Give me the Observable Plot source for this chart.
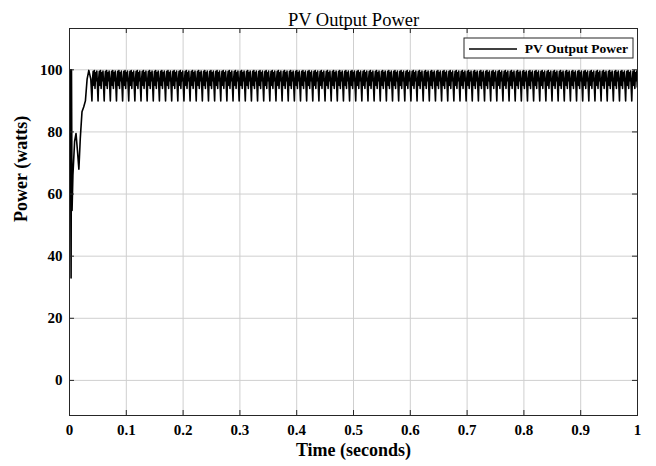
<!DOCTYPE html>
<html>
<head>
<meta charset="utf-8">
<script src="https://cdn.jsdelivr.net/npm/d3@7"></script>
<script src="https://cdn.jsdelivr.net/npm/@observablehq/plot@0.6"></script>
<style>
  html, body { margin: 0; padding: 0; background: #fff; }
  #chart svg { display: block; }
</style>
</head>
<body>
<div id="chart"></div>
<script>
// Axis ticks
const xTicks = [0, 0.1, 0.2, 0.3, 0.4, 0.5, 0.6, 0.7, 0.8, 0.9, 1];
const yTicks = [0, 20, 40, 60, 80, 100];

// Start-up transient of the PV power (time in s, power in W)
const startTime  = [0.0015, 0.0028, 0.0035, 0.0045, 0.006, 0.009, 0.0115, 0.014, 0.0165, 0.019, 0.022, 0.025, 0.028, 0.031, 0.034, 0.0375];
const startPower = [100,    33,     100,    54.7,   66,    77,    79.5,   74,    68,     78,    86.5,  88,    90,    97,    99.8,  97];

// Steady-state ripple: one period of the MPPT oscillation, sampled over its phase
const ripplePhase = [0,  0.1, 0.2,  0.3, 0.4,  0.5,  0.6, 0.7,  0.8,  0.9];
const ripplePower = [90, 97,  99.5, 95,  99.8, 94,   99,  96.5, 99.6, 94.5];
const rippleStart = 0.0395;   // first ripple trough (s)
const ripplePeriod = 0.0108;  // ripple period (s)
const endTime = 1;

// Assemble the time series
const series = startTime.map((t, i) => ({t, p: startPower[i]}));
for (let t0 = rippleStart; t0 < endTime; t0 += ripplePeriod) {
  ripplePhase.forEach((ph, i) => {
    const t = t0 + ph * ripplePeriod;
    if (t <= endTime) series.push({t, p: ripplePower[i]});
  });
}

const font = "'Liberation Serif', 'Times New Roman', serif";
const tickLen = 5;
const W = 656, H = 466, mL = 69, mR = 19, mT = 28, mB = 51;
const frameW = W - mL - mR, frameH = H - mT - mB;
const fmt = d => String(d);

const chart = Plot.plot({
  width: W,
  height: H,
  marginLeft: mL,
  marginRight: mR,
  marginTop: mT,
  marginBottom: mB,
  style: {fontFamily: font, fontSize: "15px", fontWeight: "bold", color: "#000", background: "#fff"},
  x: {domain: [0, 1], ticks: xTicks, tickFormat: fmt, label: null},
  y: {domain: [-11.3, 113.3], ticks: yTicks, tickFormat: fmt, label: null},
  marks: [
    Plot.gridX(xTicks, {stroke: "#cfcfcf", strokeOpacity: 1}),
    Plot.gridY(yTicks, {stroke: "#cfcfcf", strokeOpacity: 1}),
    Plot.line(series, {x: "t", y: "p", stroke: "#000", strokeWidth: 1.6, clip: true}),
    // inward ticks on all four sides
    Plot.tickX(xTicks, {x: d => d, stroke: "#262626", insetTop: frameH - tickLen}),
    Plot.tickX(xTicks, {x: d => d, stroke: "#262626", insetBottom: frameH - tickLen}),
    Plot.tickY(yTicks, {y: d => d, stroke: "#262626", insetRight: frameW - tickLen}),
    Plot.tickY(yTicks, {y: d => d, stroke: "#262626", insetLeft: frameW - tickLen}),
    Plot.frame({stroke: "#262626", strokeWidth: 1}),
    Plot.axisX(xTicks, {tickSize: 0, tickPadding: 9, tickFormat: fmt, fontSize: 15, fontWeight: "bold", label: null}),
    Plot.axisY(yTicks, {tickSize: 0, tickPadding: 7, tickFormat: fmt, fontSize: 15, fontWeight: "bold", label: null}),
    Plot.text(["PV Output Power"], {frameAnchor: "top", dy: -16, fontSize: 18.5, fontWeight: "normal", fill: "#000"}),
    Plot.text(["Time (seconds)"], {frameAnchor: "bottom", dy: 40, fontSize: 18, fontWeight: "bold", fill: "#000"}),
    Plot.text(["Power (watts)"], {frameAnchor: "left", dx: -48, rotate: -90, fontSize: 18, fontWeight: "bold", fill: "#000"})
  ]
});

// Legend box in the top-right corner of the axes
const [x0, x1] = chart.scale("x").range;
const [yBottom, yTop] = chart.scale("y").range;
const lg = d3.select(chart).append("g").attr("transform", `translate(${x1 - 173},${yTop + 10})`);
lg.append("rect").attr("width", 169).attr("height", 20)
  .attr("fill", "#fff").attr("stroke", "#262626").attr("stroke-width", 1);
lg.append("line").attr("x1", 5).attr("x2", 53).attr("y1", 11).attr("y2", 11)
  .attr("stroke", "#000").attr("stroke-width", 1.5);
lg.append("text").attr("x", 164).attr("y", 15).attr("text-anchor", "end")
  .attr("font-family", font).attr("font-size", 13.5).attr("font-weight", "bold")
  .attr("fill", "#000").text("PV Output Power");

document.getElementById("chart").appendChild(chart);
</script>
</body>
</html>
